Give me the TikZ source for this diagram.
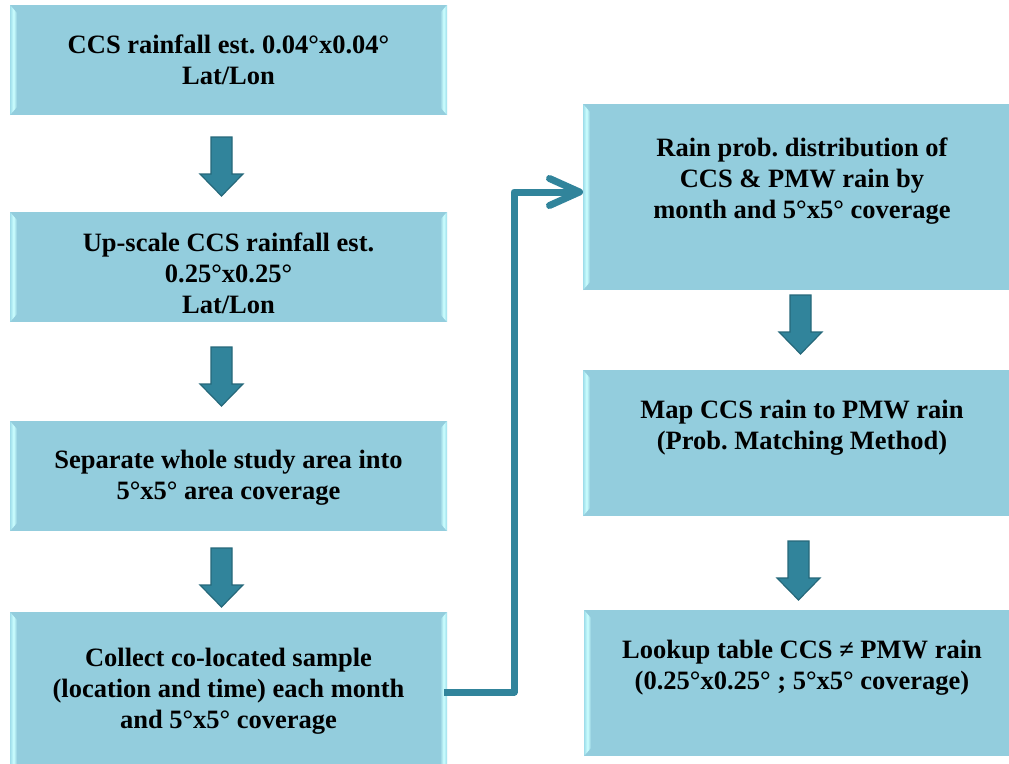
\documentclass[tikz,border=0pt]{standalone}
\usepackage{fontspec}
\setmainfont{Liberation Serif}
\frenchspacing
\usetikzlibrary{calc,arrows.meta}
\definecolor{boxfill}{HTML}{93CDDD}
\definecolor{arrfill}{HTML}{31849B}
\definecolor{arrline}{HTML}{25687A}
\definecolor{bevlight}{HTML}{CCFFFF}
\definecolor{bevedge}{HTML}{9EDDEA}
\tikzset{
  boxst/.style={fill=boxfill, draw=none, inner sep=0pt, outer sep=0pt, anchor=north west},
  txt/.style={font=\bfseries\fontsize{26.5}{31}\selectfont, align=center, inner sep=0pt},
  bevL/.style={left color=bevedge, right color=boxfill, middle color=bevlight},
  bevR/.style={left color=boxfill, right color=bevedge, middle color=bevlight},
  barrowst/.style={fill=arrfill, draw=arrline, line width=1.2pt, line join=miter},
  conn/.style={draw=arrfill, line width=7pt, line join=round,
    -{Straight Barb[length=30pt, width=27pt, round]}}
}
\newcommand\bevbox[5]{%
  \node[boxst, minimum width={#4-#2}, minimum height={#5-#3}] (#1) at (#2,#3) {};
  \shade[bevL] (#2,#3) -- (#2+7,#3+8) -- (#2+7,#5-8) -- (#2,#5) -- cycle;
  \shade[bevR] (#4,#3) -- (#4-7,#3+8) -- (#4-7,#5-8) -- (#4,#5) -- cycle;
}
% block arrow: x, upper node, gap below it, lower node (arrow 59 long)
\newcommand\barrow[4]{%
  \path[barrowst] let \p1=(#2.south), \p2=(#4.north), \p3=(#1,0),
      \n1={\y1-#3pt}, \n2={\y1-#3pt-37pt}, \n3={\y1-#3pt-59pt} in
    (\x3-10.5pt, \n1) -- (\x3+10.5pt, \n1)
    -- (\x3+10.5pt, \n2) -- (\x3+21.5pt, \n2)
    -- (\x3, \n3) -- (\x3-21.5pt, \n2)
    -- (\x3-10.5pt, \n2) -- cycle;
}
\begin{document}
\begin{tikzpicture}[x=1pt, y=-1pt]
\useasboundingbox (0,0) rectangle (1009,763);
\clip (0,0) rectangle (1009,763);
\fill[white] (0,0) rectangle (1009,763);

\bevbox{b1}{10}{5}{447}{115}
\bevbox{b2}{10}{212}{447}{322}
\bevbox{b3}{10}{421}{447}{531}
\bevbox{b4}{10}{612}{447}{772}
\bevbox{b5}{583}{104}{1022}{290}
\bevbox{b6}{583}{370}{1022}{516}
\bevbox{b7}{584}{610}{1022}{756}

\node[txt] (t1) at (228.5,60) {CCS rainfall est. 0.04°x0.04°\\Lat/Lon};
\node[txt] (t2) at (228.5,273) {Up-scale CCS rainfall est.\\0.25°x0.25°\\Lat/Lon};
\node[txt] (t3) at (228.5,478) {Separate whole study area into\\5°x5° area coverage};
\node[txt] (t4) at (228.5,691) {Collect co-located sample\\(location and time) each month\\and 5°x5° coverage};
\node[txt] (t5) at (802,181) {Rain prob. distribution of\\CCS \& PMW rain by\\month and 5°x5° coverage};
\node[txt] (t6) at (802,428) {Map CCS rain to PMW rain\\(Prob. Matching Method)};
\node[txt] (t7) at (802,668) {Lookup table CCS ≠ PMW rain\\(0.25°x0.25° ; 5°x5° coverage)};

\barrow{221.5}{b1}{22}{b2}
\barrow{221.5}{b2}{25}{b3}
\barrow{221.5}{b3}{17}{b4}
\barrow{800.5}{b5}{5}{b6}
\barrow{798.5}{b6}{25}{b7}

\coordinate (c5) at ($(b5.west)+(0,-5)$);
\draw[conn] ([xshift=-3pt]b4.east) -- ++(70,0) |- (c5);
\end{tikzpicture}
\end{document}
